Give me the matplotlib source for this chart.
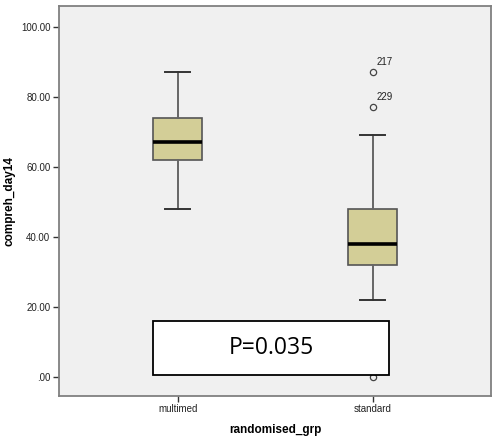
import matplotlib
matplotlib.use("Agg")
import matplotlib.pyplot as plt
from matplotlib.patches import Rectangle

plt.rcParams['font.family'] = ['Liberation Sans', 'DejaVu Sans']

groups = ["multimed", "standard"]
q1 = [62, 32]
med = [67, 38]
q3 = [74, 48]
whislo = [48, 22]
whishi = [87, 69]
outliers = [[], [87, 77, 0]]
outlier_ids = {1: [(87, "217"), (77, "229")]}
y_ticks = [0, 20, 40, 60, 80, 100]
y_ticklabels = [".00", "20.00", "40.00", "60.00", "80.00", "100.00"]
p_text = "P=0.035"

fig = plt.figure(figsize=(4.92, 4.4), dpi=100)
ax = fig.add_axes([0.1193, 0.1, 0.8793, 0.8857])
ax.set_facecolor("#F0F0F0")

stats = []
for i, g in enumerate(groups):
    stats.append(dict(label=g, q1=q1[i], med=med[i], q3=q3[i],
                      whislo=whislo[i], whishi=whishi[i], fliers=outliers[i]))

ax.bxp(stats, positions=range(len(groups)), widths=0.251, patch_artist=True,
       boxprops=dict(facecolor="#D3CE97", edgecolor="#555555", linewidth=1.2),
       medianprops=dict(color="black", linewidth=2.6),
       whiskerprops=dict(color="#666666", linewidth=1.4),
       capprops=dict(color="#333333", linewidth=1.4),
       capwidths=0.126,
       flierprops=dict(marker="o", markersize=4.5, markerfacecolor="none",
                       markeredgecolor="#444444", markeredgewidth=0.9))

for i, lst in outlier_ids.items():
    for v, lab in lst:
        ax.annotate(lab, (i, v), xytext=(3, 4), textcoords="offset points",
                    fontsize=7, color="#222222", ha="left", va="bottom")

ax.set_xlim(-0.61, 1.608)
ax.set_ylim(-5.5, 105.8)
ax.set_yticks(y_ticks)
ax.set_yticklabels(y_ticklabels)
ax.set_xticks(range(len(groups)))
ax.set_xticklabels(groups)
ax.tick_params(axis="both", labelsize=7, length=4, width=1.0, color="#333333",
               labelcolor="#222222", pad=2)
for s in ax.spines.values():
    s.set_color("#808080")
    s.set_linewidth(1.3)

ax.set_xlabel("randomised_grp", fontsize=8.5, fontweight="bold", labelpad=7)
ax.set_ylabel("compreh_day14", fontsize=8.5, fontweight="bold")
ax.yaxis.set_label_coords(-0.1, 0.5)

ax.add_patch(Rectangle((-0.127, 0.6), 1.211, 15.4, facecolor="white",
                       edgecolor="black", linewidth=1.3, zorder=4))
ax.text(0.48, 8.3, p_text, fontsize=16.5, ha="center", va="center",
        family=["Open Sans", "DejaVu Sans"], color="black", zorder=5)

fig.savefig("out.png", dpi=100)
